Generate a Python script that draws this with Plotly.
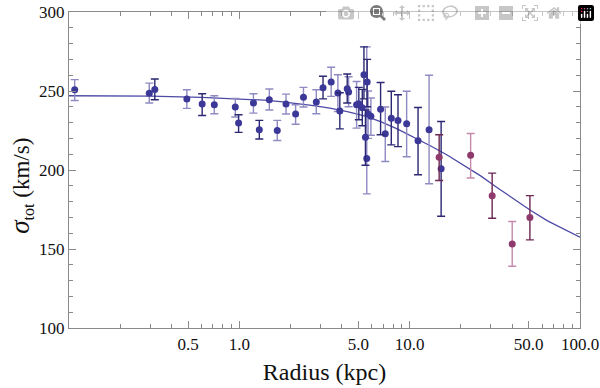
import plotly.graph_objects as go

# blue points, dark error bars
bd_r = [0.319, 0.605, 0.99, 1.31, 3.1, 3.89, 4.3, 5.03, 5.27, 5.39, 5.5, 5.63, 6.75, 7.8, 8.54, 11.2, 15.3]
bd_s = [251.0, 241.8, 229.7, 225.5, 252.0, 237.3, 251.5, 241.9, 239.4, 260.3, 220.8, 255.7, 238.5, 232.8, 231.3, 218.5, 200.8]
bd_lo = [244.5, 234.5, 223.8, 219.6, 245.0, 226.0, 242.4, 231.8, 228.0, 245.0, 203.0, 240.0, 222.3, 215.9, 214.8, 197.0, 170.7]
bd_hi = [257.6, 248.3, 235.0, 231.4, 259.3, 248.9, 260.8, 252.3, 251.0, 277.9, 238.0, 270.0, 255.4, 249.8, 247.6, 239.6, 230.7]

# blue points, light error bars
bl_r = [0.108, 0.296, 0.492, 0.713, 0.947, 1.21, 1.5, 1.67, 1.88, 2.14, 2.38, 2.83, 3.46, 3.79, 4.38, 4.88, 5.6, 5.7, 5.92, 7.19, 9.6, 13.0]
bl_s = [250.8, 248.5, 245.0, 241.3, 239.8, 242.4, 244.5, 225.0, 241.8, 235.4, 246.0, 243.0, 255.7, 248.7, 249.4, 241.3, 207.2, 235.4, 234.0, 222.9, 229.3, 225.4]
bl_lo = [244.0, 242.4, 239.0, 235.6, 233.5, 236.0, 238.0, 218.7, 235.4, 229.0, 239.9, 235.6, 246.6, 237.0, 240.0, 226.5, 184.9, 220.0, 222.0, 205.4, 208.4, 191.3]
bl_hi = [257.2, 255.0, 250.8, 247.0, 245.3, 248.3, 251.3, 231.4, 248.0, 241.3, 252.3, 250.8, 265.0, 260.3, 259.0, 256.0, 277.9, 250.0, 245.6, 239.9, 249.8, 260.0]

# outer points (purple)
pd_r = [14.9, 30.5, 50.8]
pd_s = [208.0, 183.7, 169.9]
pd_lo = [193.4, 169.5, 155.8]
pd_hi = [222.3, 198.0, 183.8]
pl_r = [22.8, 40.0]
pl_s = [209.3, 153.2]
pl_lo = [194.9, 139.1]
pl_hi = [223.1, 167.4]

# model curve
curve_r = [0.1, 0.3, 0.6, 1.0, 1.4, 1.74, 2.2, 2.73, 3.4, 4.3, 5.5, 6.75, 8.45, 10.6, 13.3, 16.6, 20.8, 26.1, 32.7, 41.0, 51.4, 64.5, 80.8, 100.0]
curve_s = [247.0, 246.7, 246.0, 245.1, 244.2, 243.3, 242.2, 240.8, 239.1, 237.0, 234.1, 230.6, 226.0, 220.8, 215.2, 209.5, 203.0, 196.3, 188.8, 181.4, 174.4, 167.8, 162.3, 157.5]

xtick_vals = [0.5, 1, 5, 10, 50, 100]
xtick_text = ["0.5", "1.0", "5.0", "10.0", "50.0", "100.0"]
ytick_vals = [100, 150, 200, 250, 300]

BLUE = "#3c3898"
PURPLE = "#8f3a6c"
AXIS = "#8a8a8a"
FONT = "'Liberation Serif', 'Times New Roman', Times, serif"

fig = go.Figure()

fig.add_trace(go.Scatter(x=curve_r, y=curve_s, mode="lines",
                         line=dict(color="#4d4aa6", width=1.3),
                         showlegend=False, hoverinfo="skip"))


def add_pts(r, s, lo, hi, mcol, bcol):
    fig.add_trace(go.Scatter(
        x=r, y=s, mode="markers",
        marker=dict(color=mcol, size=7),
        error_y=dict(type="data", symmetric=False,
                     array=[h - v for h, v in zip(hi, s)],
                     arrayminus=[v - l for l, v in zip(lo, s)],
                     color=bcol, thickness=1.4, width=4),
        showlegend=False))


add_pts(bl_r, bl_s, bl_lo, bl_hi, BLUE, "#8e8ac2")
add_pts(bd_r, bd_s, bd_lo, bd_hi, BLUE, "#2c2873")
add_pts(pl_r, pl_s, pl_lo, pl_hi, PURPLE, "#c48aab")
add_pts(pd_r, pd_s, pd_lo, pd_hi, PURPLE, "#6c2853")

minor_x = [0.2, 0.3, 0.4, 0.6, 0.7, 0.8, 0.9, 2, 3, 4, 6, 7, 8, 9, 20, 30, 40, 60, 70, 80, 90]

fig.update_xaxes(
    type="log", range=[-1, 2], automargin=False,
    tickmode="array", tickvals=xtick_vals, ticktext=xtick_text,
    ticks="inside", ticklen=7, tickcolor=AXIS,
    minor=dict(tickmode="array", tickvals=minor_x, ticks="inside", ticklen=4, tickcolor=AXIS),
    showline=True, linecolor=AXIS, linewidth=1.2, mirror="ticks",
    showgrid=False, zeroline=False,
    title=dict(text="Radius (kpc)", font=dict(size=24, family=FONT), standoff=10),
    tickfont=dict(size=17, family=FONT),
)
fig.update_yaxes(
    range=[100, 300], automargin=False,
    tickmode="array", tickvals=ytick_vals,
    ticks="inside", ticklen=7, tickcolor=AXIS,
    minor=dict(dtick=10, ticks="inside", ticklen=4, tickcolor=AXIS),
    showline=True, linecolor=AXIS, linewidth=1.2, mirror="ticks",
    showgrid=False, zeroline=False,
    tickfont=dict(size=17, family=FONT),
)
# y title placed as an annotation so it can sit a little below centre, like the original
fig.add_annotation(
    text="<span style='font-size:27px'><i>σ</i></span><sub>tot</sub> (km/s)",
    xref="paper", yref="paper", x=-0.094, y=0.45,
    xanchor="center", yanchor="middle", textangle=-90, showarrow=False,
    font=dict(size=23, family=FONT, color="#111111"),
)
fig.update_layout(
    width=600, height=388,
    margin=dict(l=69, r=20, t=12, b=60),
    plot_bgcolor="white", paper_bgcolor="white",
    font=dict(family=FONT, color="#111111"),
)

# drop the browser's default 8px page margin so the figure sits at the window corner
fig.write_html("out.html", post_script="document.body.style.margin = '0';")
